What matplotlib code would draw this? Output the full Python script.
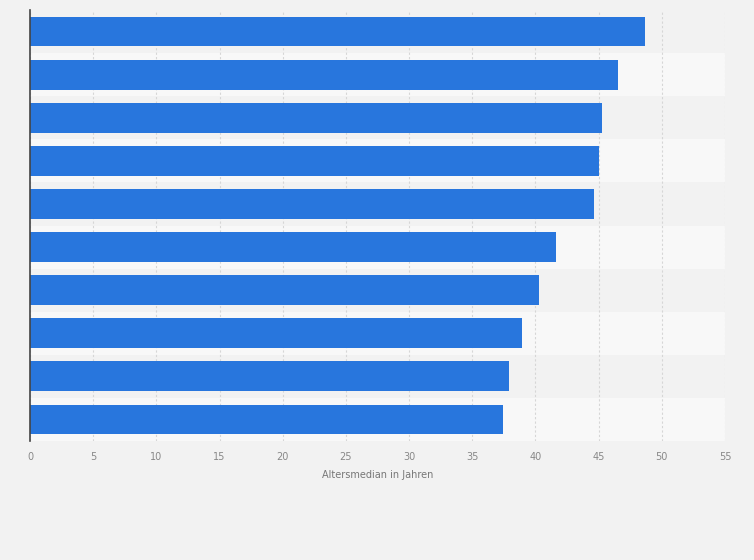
import matplotlib.pyplot as plt
import numpy as np

# Altersmedian je Land (Beschriftungen im Original nicht sichtbar), von oben nach unten
ranks = ["1", "2", "3", "4", "5", "6", "7", "8", "9", "10"]
median_age = [48.7, 46.5, 45.3, 45.0, 44.6, 41.6, 40.3, 38.9, 37.9, 37.4]
xticks = [0, 5, 10, 15, 20, 25, 30, 35, 40, 45, 50, 55]

fig = plt.figure(figsize=(7.54, 5.6), dpi=100)
fig.patch.set_facecolor("#f2f2f2")
ax = fig.add_axes([30 / 754, 1 - 441 / 560, 695 / 754, 431 / 560])
ax.set_facecolor("#f2f2f2")

n = len(ranks)
y = np.arange(n)
for i in y:
    ax.axhspan(i - 0.5, i + 0.5, color="#f2f2f2" if i % 2 == 0 else "#f8f8f8", zorder=0, lw=0)

ax.barh(y, median_age, height=0.69, color="#2876dd", zorder=3)

ax.set_xlim(0, 55)
ax.set_ylim(n - 0.5, -0.5)
ax.set_xticks(xticks)
ax.set_xticklabels([str(t) for t in xticks], fontsize=7, color="#888888")
ax.set_yticks([])
ax.tick_params(axis="x", length=0, pad=8)
ax.xaxis.grid(True, color="#d6d6d6", linestyle=(0, (2, 2)), linewidth=0.8, zorder=1)
ax.set_axisbelow(True)

for s in ["top", "right", "bottom"]:
    ax.spines[s].set_visible(False)
ax.spines["left"].set_color("#444444")
ax.spines["left"].set_linewidth(1.2)
ax.spines["left"].set_zorder(4)

ax.set_xlabel("Altersmedian in Jahren", fontsize=7, color="#777777", labelpad=6)

fig.savefig("out.png", dpi=100, facecolor=fig.get_facecolor())
